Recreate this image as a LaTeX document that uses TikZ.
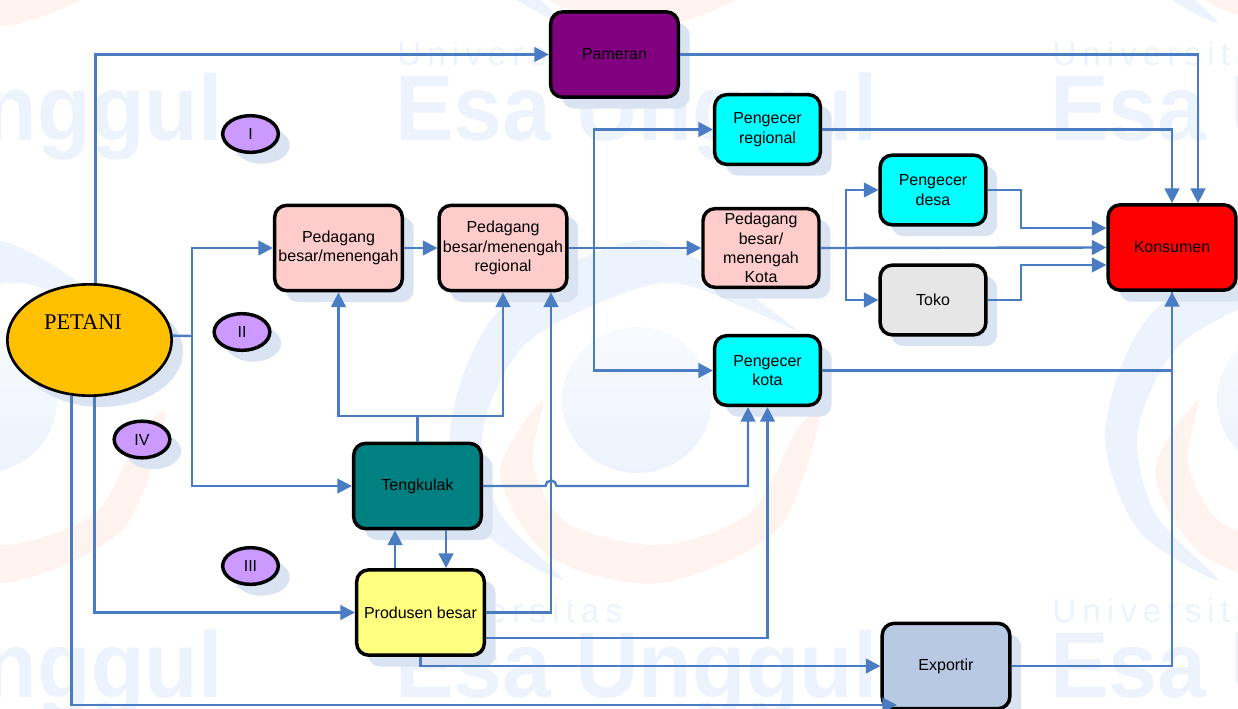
\documentclass[tikz,border=0pt]{standalone}
\usepackage{fontspec}
\setmainfont{Liberation Sans}
\newfontfamily\petanifont{Liberation Serif}
\newfontfamily\markfont[LetterSpace=18]{Liberation Sans}
\usetikzlibrary{shapes.geometric,shadows,arrows.meta}
\definecolor{flowblue}{HTML}{4A7CC4}
\definecolor{shadowblue}{HTML}{DAE3F1}
\definecolor{markblue}{HTML}{EDF3FC}
\definecolor{markpale}{HTML}{F8FAFE}
\definecolor{markred}{HTML}{FEF3EF}
\definecolor{romanfill}{HTML}{CC99FF}
\definecolor{petanifill}{HTML}{FFC000}
\definecolor{pameranfill}{HTML}{800080}
\definecolor{shopfill}{HTML}{00FFFF}
\definecolor{tokofill}{HTML}{E6E6E6}
\definecolor{pedfill}{HTML}{FFCCCC}
\definecolor{tealfill}{HTML}{008080}
\definecolor{prodfill}{HTML}{FFFF80}
\definecolor{exportfill}{HTML}{B8C9E3}
\tikzset{
	lit/.style={drop shadow={shadow xshift=8.5pt,shadow yshift=-8.5pt,fill=shadowblue,opacity=1}},
	box/.style={rectangle,rounded corners=9pt,draw=black,line width=2.6pt,align=center,lit,
		font=\fontsize{12pt}{14.5pt}\selectfont,inner sep=0pt},
	bigbox/.style={box,minimum width=95.75pt,minimum height=64pt},
	midbox/.style={box,minimum width=79.25pt,minimum height=52.25pt},
	roman/.style={ellipse,draw=black,line width=2.6pt,fill=romanfill,lit,
		minimum width=41.75pt,minimum height=27.5pt,inner sep=0pt,font=\fontsize{12pt}{14pt}\selectfont},
	flow/.style={draw=flowblue,line width=1.8pt},
	arrow/.style={flow,-{Triangle[length=11pt,width=11pt]}},
	markbig/.style={text=markblue,font=\bfseries\fontsize{70pt}{70pt}\selectfont,anchor=base west,inner sep=0pt},
	marksmall/.style={text=markblue,font=\markfont\fontsize{25pt}{25pt}\selectfont,anchor=base west,inner sep=0pt}
}
\begin{document}
\begin{tikzpicture}[x=.75pt,y=-.75pt]
	\useasboundingbox (0,0) rectangle (1238,708);
	% watermark
	\foreach \dx in {-655,0,655}{
		\foreach \dy in {-557,0}{
			\begin{scope}[shift={(\dx,\dy)}]
				\fill[markred] plot[smooth cycle] coordinates {(543,400) (500,473) (550,557) (660,583) (777,530) (820,417) (797,430) (750,513) (660,545) (567,523) (533,463)};
				\fill[markblue] plot[smooth cycle] coordinates {(563,580) (483,530) (450,430) (500,310) (650,240) (797,330) (750,310) (660,283) (530,340) (483,430) (500,513)};
				\shade[top color=markpale,bottom color=markblue] (637,400) ellipse[x radius=75,y radius=73];
			\end{scope}
		}
		\node[markbig] (esatop\dx) at (\dx+395,140) {\scalebox{.94}[1]{Esa Unggul}};
		\node[markbig] (esabot\dx) at (\dx+395,697) {\scalebox{.94}[1]{Esa Unggul}};
	}
	\node[marksmall] (univa) at (397,65) {Universitas};
	\node[marksmall] (univb) at (1052,65) {Universitas};
	\node[marksmall] (univc) at (397,622) {Universitas};
	\node[marksmall] (univd) at (1052,622) {Universitas};

	% nodes
	\node[ellipse,draw=black,line width=2pt,fill=petanifill,lit,minimum width=123.25pt,minimum height=83.5pt,inner sep=0pt] (petani) at (89.5,340) {};
	\node[font=\petanifont\fontsize{16.8pt}{18pt}\selectfont,inner sep=0pt] (petanitext) at (83,322) {PETANI};
	\node[bigbox,fill=pameranfill] (pameran) at (614.5,54.5) {Pameran};
	\node[midbox,fill=shopfill] (regional) at (767.5,129.5) {Pengecer\\regional};
	\node[midbox,fill=shopfill] (desa) at (933,190) {Pengecer\\desa};
	\node[midbox,fill=shopfill] (kota) at (767.5,370.5) {Pengecer\\kota};
	\node[midbox,fill=tokofill] (toko) at (933,300) {Toko};
	\node[box,minimum width=87pt,minimum height=59pt,fill=pedfill] (pedkota) at (761,248) {Pedagang\\besar/\\menengah\\Kota};
	\node[bigbox,fill=pedfill] (pedbesar) at (338.5,248) {Pedagang\\besar/menengah};
	\node[bigbox,fill=pedfill] (pedreg) at (503,248) {Pedagang\\besar/menengah\\regional};
	\node[bigbox,fill=tealfill] (tengkulak) at (417.5,486) {Tengkulak};
	\node[bigbox,fill=prodfill] (produsen) at (420.5,612.5) {Produsen besar};
	\node[bigbox,fill=exportfill] (exportir) at (946,666) {Exportir};
	\node[bigbox,fill=red] (konsumen) at (1172,247.5) {Konsumen};
	\node[roman] (romani) at (250.5,134) {I};
	\node[roman] (romanii) at (242,332) {II};
	\node[roman] (romaniii) at (250.5,566) {III};
	\node[roman] (romaniv) at (142,439.5) {IV};

	% branch points
	\coordinate (trunk) at (192,336);
	\coordinate (fork) at (594,248);
	\coordinate (forkkota) at (846,248);
	\coordinate (tengfork) at (417.5,416);
	\coordinate (jumpa) at (545.5,486);
	\coordinate (drop) at (1021,248);
	\coordinate (exportfoot) at (897,705);

	% connectors
	\draw[arrow] (petani.84.5) |- (pameran.west);
	\draw[arrow] (pameran.east) -| ([xshift=19.5pt]konsumen.north);
	\draw[flow] (petani.3) -- (trunk);
	\draw[arrow] (trunk) |- (pedbesar.west);
	\draw[arrow] (trunk) |- (tengkulak.west);
	\draw[arrow] (petani.275.5) |- (produsen.west);
	\draw[arrow] (petani.252.6) |- (exportfoot);
	\draw[arrow] (pedbesar.east) -- (pedreg.west);
	\draw[arrow] (pedreg.east) -- (pedkota.west);
	\draw[arrow] (fork) |- (regional.west);
	\draw[arrow] (fork) |- (kota.west);
	\draw[arrow] (regional.east) -| (konsumen.north);
	\draw[arrow] (pedkota.east) -- (konsumen.west);
	\draw[arrow] (forkkota) |- (desa.west);
	\draw[arrow] (forkkota) |- (toko.west);
	\draw[arrow] (desa.east) -- (desa.east -| drop) |- ([yshift=14.6pt]konsumen.west);
	\draw[arrow] (toko.east) -- (toko.east -| drop) |- ([yshift=-13.1pt]konsumen.west);
	\draw[flow] (tengkulak.north) -- (tengfork);
	\draw[arrow] (tengfork) -| (pedbesar.south);
	\draw[arrow] (tengfork) -| (pedreg.south);
	\draw[arrow] (tengkulak.east) -- (jumpa) arc[start angle=180,end angle=360,radius=5.5] -| ([xshift=-14.6pt]kota.south);
	\draw[arrow] ([xshift=-19.1pt]produsen.north) -- ([xshift=-19.1pt]produsen.north |- tengkulak.south);
	\draw[arrow] ([xshift=21.4pt]tengkulak.south) -- ([xshift=21.4pt]tengkulak.south |- produsen.north);
	\draw[arrow] (produsen.east) -| ([xshift=36pt]pedreg.south);
	\draw[arrow] ([yshift=-19.1pt]produsen.east) -| (kota.south);
	\draw[arrow] (produsen.south) |- (exportir.west);
	\draw[arrow] (exportir.east) -| (konsumen.south);
	\draw[flow] (kota.east) -| (konsumen.south);
\end{tikzpicture}
\end{document}
